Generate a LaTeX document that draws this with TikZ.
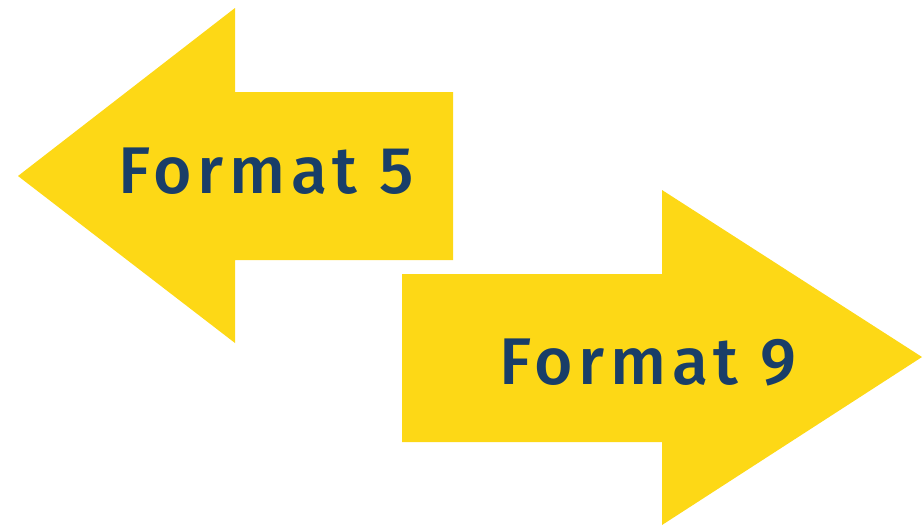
\documentclass[tikz,border=0pt]{standalone}
\usepackage{fontspec}
\setmainfont{Fira Sans}
\IfFontExistsTF{Fira Sans Medium}
  {\newfontfamily\labelfont[LetterSpace=8.5]{Fira Sans Medium}}
  {\newfontfamily\labelfont[LetterSpace=8.5,FakeBold=1]{Fira Sans}}
\definecolor{arrowyellow}{HTML}{FDD816}
\definecolor{textblue}{HTML}{193E68}
\tikzset{
  arrowshape/.style={fill=arrowyellow, draw=none},
  arrowlabel/.style={anchor=base west, inner sep=0pt, text=textblue, font=\labelfont\fontsize{66}{66}\selectfont}
}
\begin{document}
\begin{tikzpicture}[x=1pt,y=-1pt]
\useasboundingbox (0,0) rectangle (923,531);
% left arrow
\fill[arrowshape] (18,176) -- (235,8) -- (235,92) -- (453,92) -- (453,260) -- (235,260) -- (235,343) -- cycle;
% right arrow
\fill[arrowshape] (402,274) -- (662,274) -- (662,190) -- (922,357) -- (662,525) -- (662,442) -- (402,442) -- cycle;
\node[arrowlabel] (f5) at (118,193) {Format 5};
\node[arrowlabel] (f9) at (499,384) {Format 9};
\end{tikzpicture}
\end{document}
